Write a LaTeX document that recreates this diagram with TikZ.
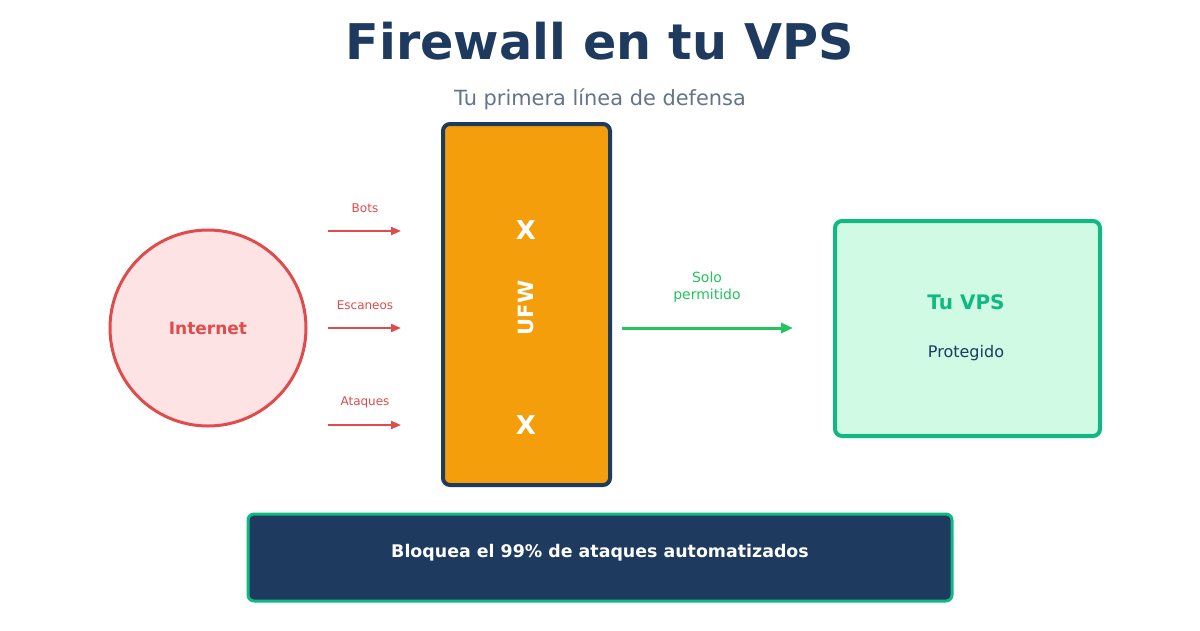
\documentclass[tikz,border=0pt]{standalone}
\usepackage{fontspec}
\usetikzlibrary{arrows.meta}
\setmainfont{DejaVu Sans}
\definecolor{navy}{HTML}{1E3A5F}
\definecolor{redline}{HTML}{E04B4B}
\definecolor{redfill}{HTML}{FDE3E3}
\definecolor{orangefill}{HTML}{F59E0B}
\definecolor{greenarrow}{HTML}{22C55E}
\definecolor{greenline}{HTML}{10B981}
\definecolor{greenfill}{HTML}{D1FAE5}
\definecolor{subgray}{HTML}{64748B}
\newcommand{\fs}[1]{\fontsize{#1}{#1}\selectfont}
\begin{document}
\begin{tikzpicture}[x=1pt, y=-1pt, >={Triangle[length=10pt, width=8pt]},
                box/.style={rectangle, rounded corners=7pt, line width=4pt, inner sep=0pt},
                redarrow/.style={->, redline, line width=2pt},
                label/.style={inner sep=0pt, align=center}
            ]
            \useasboundingbox[fill=white] (0,0) rectangle (1200,630);

            % Title
            \node[label, text=navy, font=\fs{49.2}\bfseries] (title) at (600,41) {Firewall en tu VPS};
            \node[label, text=subgray, font=\fs{20.9}] (subtitle) at (600,99) {Tu primera línea de defensa};

            % Internet
            \node[circle, draw=redline, fill=redfill, line width=3pt, minimum size=196pt,
                  text=redline, font=\fs{17}\bfseries] (inet) at (208,328) {Internet};

            % Incoming traffic
            \coordinate (bots1) at (328,231); \coordinate (bots2) at (401,231);
            \coordinate (scan1) at (328,328); \coordinate (scan2) at (401,328);
            \coordinate (atk1) at (328,425);  \coordinate (atk2) at (401,425);
            \draw[redarrow] (bots1) -- (bots2);
            \draw[redarrow] (scan1) -- (scan2);
            \draw[redarrow] (atk1) -- (atk2);
            \node[label, text=redline, font=\fs{12}] (botslbl) at (365,208) {Bots};
            \node[label, text=redline, font=\fs{12}] (scanlbl) at (365,305) {Escaneos};
            \node[label, text=redline, font=\fs{12}] (atklbl) at (365,402) {Ataques};

            % UFW block
            \node[box, draw=navy, fill=orangefill, minimum width=167pt, minimum height=361pt] (ufw) at (526.5,304.5) {};
            \node[label, text=white, font=\fs{26}\bfseries] (x1) at (526,230) {X};
            \node[label, text=white, font=\fs{21}\bfseries, rotate=90] (ufwlbl) at (526,308) {UFW};
            \node[label, text=white, font=\fs{26}\bfseries] (x2) at (526,425) {X};

            % Allowed traffic
            \coordinate (ok1) at (622,328); \coordinate (ok2) at (793,328);
            \draw[->, greenarrow, line width=3pt, >={Triangle[length=12pt, width=10pt]}] (ok1) -- (ok2);
            \node[label, text=greenarrow, font=\fs{14}] (oklbl) at (707,287) {Solo\\[3pt]permitido};

            % VPS
            \node[box, draw=greenline, fill=greenfill, minimum width=265pt, minimum height=215pt] (vps) at (967.5,328.5) {};
            \node[label, text=greenline, font=\fs{20}\bfseries] (vpslbl) at (966,302) {Tu VPS};
            \node[label, text=navy, font=\fs{16}] (protlbl) at (966,353) {Protegido};

            % Bottom banner
            \node[box, rounded corners=6pt, line width=3pt, draw=greenline, fill=navy,
                  minimum width=704pt, minimum height=87pt] (banner) at (600,557.5) {};
            \node[label, text=white, font=\fs{17.4}\bfseries] (bannerlbl) at (600,553)
                  {Bloquea el 99\% de ataques automatizados};

        \end{tikzpicture}
\end{document}
